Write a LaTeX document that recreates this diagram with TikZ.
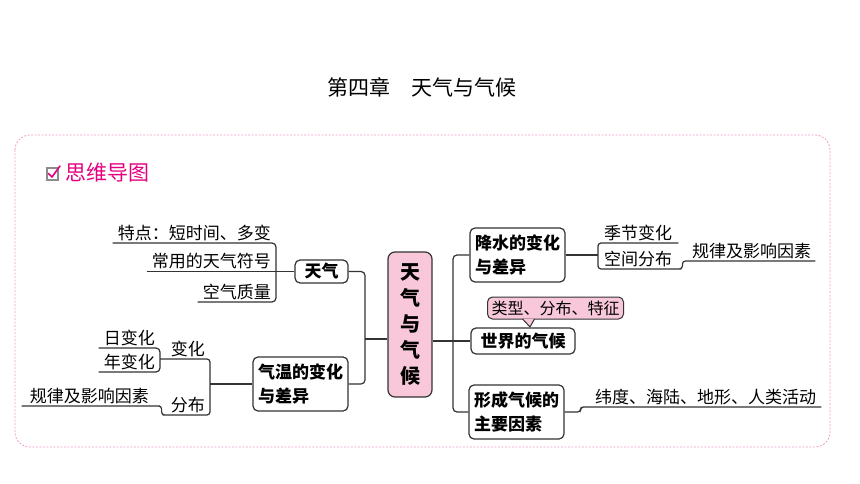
\documentclass[tikz,border=0pt]{standalone}
\usepackage{fontspec}
\newfontfamily\cjk{Noto Sans CJK SC}
\usepackage{xcolor}
\definecolor{linedark}{HTML}{333333}
\definecolor{rosefill}{HTML}{F8C8DA}
\definecolor{mappink}{HTML}{E4007F}
\definecolor{dashpink}{HTML}{F39AC8}
\definecolor{boxgray}{HTML}{8C8C8C}
\usetikzlibrary{positioning,calc}

\tikzset{
  link/.style={draw=linedark, line width=1.2pt, rounded corners=4pt},
  leaf/.style={font=\cjk\fontsize{17}{20}\selectfont, inner xsep=5pt, inner ysep=2pt, text=black},
  topic/.style={draw=linedark, line width=1.2pt, rounded corners=5pt, fill=white,
    font=\cjk\bfseries\fontsize{17}{24}\selectfont, align=left, inner sep=3pt},
}

\begin{document}
\begin{tikzpicture}[x=1pt, y=-1pt]
    \useasboundingbox (0,0) rectangle (860,484);
    % frame and headings
    \draw[dashpink, line width=0.8pt, dash pattern=on 2pt off 1.5pt, rounded corners=15pt] (15,135) rectangle (830,447);
    \node[font=\cjk\fontsize{21}{24}\selectfont] (title) at (422,87) {第四章\quad 天气与气候};
    \draw[boxgray, line width=1.4pt] (47,168) rectangle (58,180);
    \draw[mappink, line width=1.6pt, line cap=round, line join=round] (48.5,173.5) -- (52,177) -- (60,166);
    \node[font=\cjk\fontsize{21}{24}\selectfont, text=mappink, anchor=west] (mindmap) at (62,173) {思维导图};

    % main topics
    \node[topic, fill=rosefill, align=center, font=\cjk\bfseries\fontsize{20}{26}\selectfont,
      minimum width=44, minimum height=145, rounded corners=7pt] (core) at (410,324.5) {天\\气\\与\\气\\候};
    \node[topic, minimum width=53, minimum height=23, align=center] (weather) at (321.5,271.5) {天气};
    \node[topic, minimum width=95, minimum height=54] (temp) at (300.5,384) {气温的变化\\与差异};
    \node[topic, minimum width=95, minimum height=54] (rain) at (517.5,255) {降水的变化\\与差异};
    \node[topic, minimum width=104, minimum height=26, align=center] (world) at (523,341) {世界的气候};
    \node[topic, minimum width=95, minimum height=54] (factor) at (516.5,412) {形成气候的\\主要因素};

    % branches of the core
    \coordinate (lhub) at (365,339);
    \coordinate (rhub) at (453,340);
    \draw[link] (weather.east) -| (lhub) |- (temp.east);
    \draw[link] (lhub) -- (lhub -| core.west);
    \draw[link] (rain.west) -| (rhub) |- (factor.west);
    \draw[link] (core.east |- world.west) -- (world.west);

    % weather
    \node[leaf, anchor=south east] (feature) at (276,243) {特点：短时间、多变};
    \node[leaf, anchor=south east] (symbol) at (276,271.5) {常用的天气符号};
    \node[leaf, anchor=south east] (quality) at (276,302) {空气质量};
    \draw[link] (feature.south west) -- (feature.south east) -- (quality.south east) -- (quality.south west);
    \draw[link] (symbol.south west) -- (weather.west);

    % temperature
    \node[leaf, anchor=south east] (change) at (210,359) {变化};
    \node[leaf, anchor=south east] (spread) at (210,415) {分布};
    \node[leaf, anchor=south east] (daily) at (160,348) {日变化};
    \node[leaf, anchor=south east] (yearly) at (160,372) {年变化};
    \node[leaf, anchor=south east, inner xsep=8pt] (tempcause) at (157,406) {规律及影响因素};
    \draw[link] (daily.south west) -- (daily.south east) -- (yearly.south east) -- (yearly.south west);
    \draw[link, rounded corners=3pt] (daily.south east |- change.south) -- (change.south east) -- (spread.south east)
      -- (spread.south west) -- ++(-4,0) |- (tempcause.south east) -- (tempcause.south west);
    \draw[link] (temp.west) -- (temp.west -| change.south east);

    % precipitation
    \node[leaf, anchor=south west, inner xsep=6pt] (season) at (598,243) {季节变化};
    \node[leaf, anchor=south west, inner xsep=6pt] (space) at (598,269) {空间分布};
    \node[leaf, anchor=south west, inner xsep=4pt] (raincause) at (688,261) {规律及影响因素};
    \draw[link] (rain.east) -- (rain.east -| season.south west);
    \draw[link, rounded corners=3pt] (season.south east) -- (season.south west) -- (space.south west)
      -- (space.south east) -- ++(4,0) |- (raincause.south west) -- (raincause.south east);

    % world climate
    \node[draw=linedark, line width=1pt, fill=rosefill, rounded corners=5pt, inner xsep=4pt,
      minimum height=22, font=\cjk\fontsize{16}{18}\selectfont] (kinds) at (555.5,308) {类型、分布、特征};
    \coordinate (tip) at (530,327);
    \draw[draw=linedark, line width=1pt, fill=rosefill, line join=round]
      ($(kinds.south)+(-33,-0.6)$) -- (tip) -- ($(kinds.south)+(-21,-0.6)$);

    % climate factors
    \node[leaf, anchor=south west] (causes) at (590,407) {纬度、海陆、地形、人类活动};
    \draw[link, rounded corners=3pt] (factor.east) -- ++(16,0) |- (causes.south west) -- (causes.south east);
\end{tikzpicture}
\end{document}
